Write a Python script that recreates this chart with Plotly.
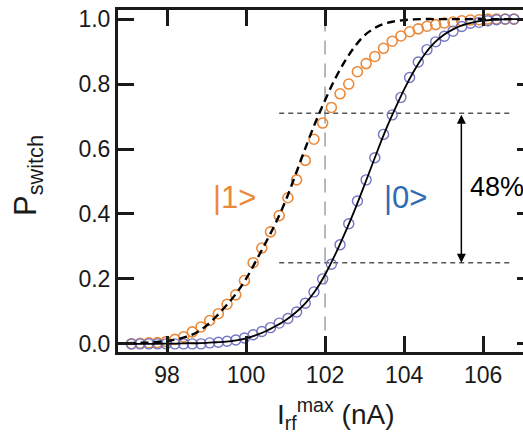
import plotly.graph_objects as go

# ---- data ----
i_data = [97.10, 97.32, 97.54, 97.76, 97.98, 98.20, 98.42, 98.64, 98.86, 99.08,
          99.30, 99.52, 99.74, 99.96, 100.18, 100.40, 100.62, 100.84, 101.06, 101.28,
          101.50, 101.72, 101.94, 102.16, 102.38, 102.60, 102.82, 103.04, 103.26, 103.48,
          103.70, 103.92, 104.14, 104.36, 104.58, 104.80, 105.02, 105.24, 105.46, 105.68,
          105.90, 106.12, 106.34, 106.56, 106.78]

p_state1 = [0.000, 0.002, 0.003, 0.004, 0.007, 0.014, 0.022, 0.037, 0.052, 0.072,
            0.093, 0.122, 0.151, 0.195, 0.250, 0.295, 0.345, 0.395, 0.450, 0.505,
            0.565, 0.630, 0.680, 0.728, 0.770, 0.800, 0.838, 0.863, 0.885, 0.910,
            0.932, 0.948, 0.961, 0.970, 0.978, 0.983, 0.988, 0.991, 0.995, 0.997,
            0.998, 1.000, 1.000, 1.000, 1.000]

p_state0 = [0.000, 0.000, 0.000, 0.000, 0.000, 0.000, 0.000, 0.000, 0.000, 0.003,
            0.005, 0.008, 0.012, 0.018, 0.028, 0.038, 0.050, 0.064, 0.078, 0.098,
            0.125, 0.160, 0.200, 0.245, 0.305, 0.370, 0.440, 0.505, 0.573, 0.645,
            0.705, 0.759, 0.820, 0.868, 0.906, 0.930, 0.947, 0.963, 0.977, 0.987,
            0.990, 0.995, 0.998, 1.000, 1.000]

i_fit = [97.00, 97.25, 97.50, 97.75, 98.00, 98.25, 98.50, 98.75, 99.00, 99.25,
         99.50, 99.75, 100.00, 100.25, 100.50, 100.75, 101.00, 101.25, 101.50, 101.75,
         102.00, 102.25, 102.50, 102.75, 103.00, 103.25, 103.50, 103.75, 104.00, 104.25,
         104.50, 104.75, 105.00, 105.25, 105.50, 105.75, 106.00, 106.25, 106.50, 106.75,
         107.00]

fit_state0 = [0.000, 0.000, 0.000, 0.000, 0.001, 0.001, 0.002, 0.002, 0.003, 0.005,
              0.007, 0.011, 0.017, 0.027, 0.039, 0.055, 0.073, 0.096, 0.125, 0.163,
              0.213, 0.273, 0.340, 0.412, 0.490, 0.570, 0.648, 0.718, 0.783, 0.840,
              0.888, 0.925, 0.951, 0.969, 0.982, 0.990, 0.995, 0.998, 0.999, 1.000,
              1.000]

fit_state1 = [0.002, 0.003, 0.004, 0.006, 0.009, 0.014, 0.022, 0.035, 0.056, 0.085,
              0.118, 0.155, 0.200, 0.255, 0.312, 0.372, 0.440, 0.520, 0.602, 0.680,
              0.750, 0.815, 0.870, 0.915, 0.950, 0.972, 0.986, 0.993, 0.997, 0.999,
              1.000, 1.000, 1.000, 1.000, 1.000, 1.000, 1.000, 1.000, 1.000, 1.000,
              1.000]

x_ticks = [98, 100, 102, 104, 106]
x_tick_labels = ["98", "100", "102", "104", "106"]
y_ticks = [0.0, 0.2, 0.4, 0.6, 0.8, 1.0]
y_tick_labels = ["0.0", "0.2", "0.4", "0.6", "0.8", "1.0"]

readout_current = [102, 102]          # vertical guide (nA)
guide_span = [-0.03, 1.03]
level_span = [100.84, 106.76]          # extent of horizontal guides
level_high = 0.71
level_low = 0.25
arrow_current = 105.45
contrast_text = "48%"

ORANGE = "#ea8a3b"
BLUE_PT = "#7276c0"
BLUE_TXT = "#2e6cb5"
INK = "#1a1a1a"
FONT = "Arial, Liberation Sans, sans-serif"

fig = go.Figure()

# vertical guide at the readout current
fig.add_trace(go.Scatter(x=readout_current, y=guide_span, mode="lines",
                         line=dict(color="#9a9a9a", width=1.4, dash="14px,9px"),
                         hoverinfo="skip", showlegend=False))
# horizontal guides
for lvl in (level_high, level_low):
    fig.add_trace(go.Scatter(x=level_span, y=[lvl, lvl], mode="lines",
                             line=dict(color="#555555", width=1.4, dash="5px,4px"),
                             hoverinfo="skip", showlegend=False))

# data points
fig.add_trace(go.Scatter(x=i_data, y=p_state1, mode="markers",
                         marker=dict(symbol="circle-open", size=10, color=ORANGE,
                                     line=dict(width=1.6, color=ORANGE)),
                         showlegend=False))
fig.add_trace(go.Scatter(x=i_data, y=p_state0, mode="markers",
                         marker=dict(symbol="circle-open", size=10, color=BLUE_PT,
                                     line=dict(width=1.4, color=BLUE_PT)),
                         showlegend=False))

# fits
fig.add_trace(go.Scatter(x=i_fit, y=fit_state1, mode="lines", line_shape="spline",
                         line=dict(color="black", width=2.4, dash="8px,5px"),
                         showlegend=False))
fig.add_trace(go.Scatter(x=i_fit, y=fit_state0, mode="lines", line_shape="spline",
                         line=dict(color="black", width=1.8),
                         showlegend=False))

# secondary y axis only for right-side ticks
fig.add_trace(go.Scatter(x=[None], y=[None], yaxis="y2", showlegend=False))

# annotations
fig.add_annotation(x=arrow_current, y=level_low, ax=arrow_current, ay=level_high,
                   xref="x", yref="y", axref="x", ayref="y", text="",
                   showarrow=True, arrowhead=2, arrowsize=1.2, arrowwidth=1.5,
                   arrowside="end+start", arrowcolor="black", startarrowhead=2,
                   startarrowsize=1.2)
fig.add_annotation(x=105.62, y=0.483, text=contrast_text, showarrow=False,
                   xanchor="left", font=dict(family=FONT, size=27, color="black"))
fig.add_annotation(x=104.03, y=0.45, text="|0>", showarrow=False,
                   font=dict(family=FONT, size=31, color=BLUE_TXT))
fig.add_annotation(x=99.7, y=0.45, text="|1>", showarrow=False,
                   font=dict(family=FONT, size=31, color=ORANGE))

# axis titles as annotations for precise placement
fig.add_annotation(xref="paper", yref="paper", x=0.536, y=0, yshift=-62,
                   xanchor="center", yanchor="middle", showarrow=False,
                   text="I<sub>rf</sub><sup>max</sup> (nA)",
                   font=dict(family=FONT, size=28, color=INK))
fig.add_annotation(xref="paper", yref="paper", x=-0.222, y=0.515,
                   xanchor="center", yanchor="middle", showarrow=False,
                   textangle=-90, text="P<sub>switch</sub>",
                   font=dict(family=FONT, size=31, color=INK))

axis_font = dict(family=FONT, size=23, color=INK)

fig.update_layout(
    width=523, height=435,
    margin=dict(l=118, r=0, t=10, b=83),
    paper_bgcolor="white", plot_bgcolor="white",
    font=dict(family=FONT, color=INK),
    xaxis=dict(range=[96.76, 107.01], tickvals=x_ticks, ticktext=x_tick_labels,
               ticks="inside", ticklen=16, tickwidth=2.5, tickcolor=INK,
               showline=True, linewidth=3, linecolor=INK, mirror="ticks",
               showgrid=False, zeroline=False, tickfont=axis_font),
    yaxis=dict(range=[-0.025, 1.028], tickvals=y_ticks, ticktext=y_tick_labels,
               ticks="inside", ticklen=16, tickwidth=2.5, tickcolor=INK,
               showline=True, linewidth=3, linecolor=INK,
               showgrid=False, zeroline=False, tickfont=axis_font),
    yaxis2=dict(range=[-0.025, 1.028], overlaying="y", side="right",
                tickvals=y_ticks, ticks="inside", ticklen=6, tickwidth=2.5,
                tickcolor=INK, showticklabels=False, showline=False,
                showgrid=False, zeroline=False),
)

fig.write_html("out.html", config={"displayModeBar": False},
               post_script="document.body.style.margin='0';"
                           "document.body.style.overflow='hidden';")
